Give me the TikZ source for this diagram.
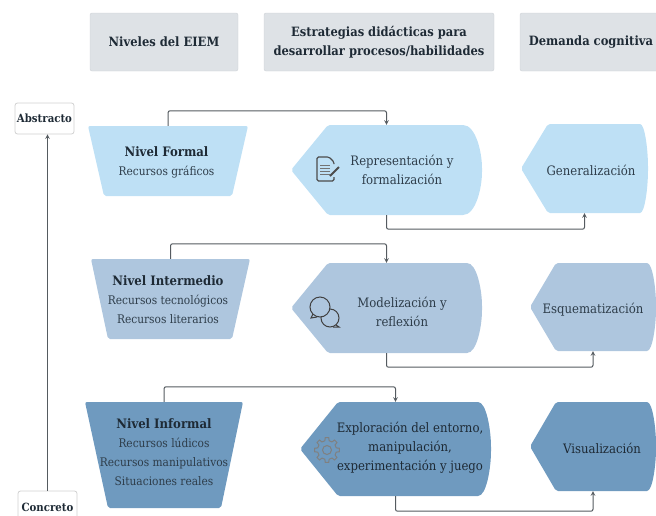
\documentclass[tikz,border=0pt]{standalone}
\usepackage{fontspec}
\setmainfont{DejaVu Serif Condensed}
\usepackage{tikz}
\usetikzlibrary{shapes,arrows}

\definecolor{cabecera}{HTML}{DEE2E6}
\definecolor{claro}{HTML}{BEE0F5}
\definecolor{medio}{HTML}{AEC6DE}
\definecolor{oscuro}{HTML}{6F9ABF}
\definecolor{tinta}{HTML}{1E2A35}
\definecolor{suave}{HTML}{2E3D4A}
\definecolor{linea}{HTML}{555B60}

\tikzset{
  cabeza/.style={rectangle, rounded corners=2pt, fill=cabecera, draw=cabecera!93!black, line width=0.4pt, inner sep=0pt, align=center, text=tinta, font=\fontsize{12.8}{19}\selectfont\bfseries},
  extremo/.style={rectangle, rounded corners=2.5pt, fill=white, draw=black!18, line width=0.8pt, inner sep=0pt, text=tinta, font=\fontsize{11.3}{13}\selectfont\bfseries},
  caja/.style={rectangle, inner sep=0pt},
  texto/.style={align=center, text=suave, font=\fontsize{13}{19}\selectfont},
  recurso/.style={align=center, text=suave, font=\fontsize{11.8}{19}\selectfont},
  conector/.style={draw=linea, line width=1pt, rounded corners=2pt, >=stealth},
}

\newcommand{\titulo}[1]{{\fontsize{13}{19}\selectfont\bfseries\color{tinta}#1}}

% top left x, top right x, bottom left x, bottom right x, top y, bottom y
\newcommand{\trapecio}[8]{
  \fill[#2, rounded corners=2pt] (#3,#7) -- (#4,#7) -- (#6,#8) -- (#5,#8) -- cycle;
  \node[caja, minimum width={(#4-#3)*1pt}, minimum height={(#8-#7)*1pt}] (#1) at ({(#3+#4)/2},{(#7+#8)/2}) {};
}

% tip x, corner x, arc x, end x, top y, bottom y
\newcommand{\pentagono}[8]{
  \pgfmathsetmacro{\ymed}{(#7+#8)/2}
  \fill[#2, rounded corners=2pt] (#3,\ymed) -- (#4,#7) -- (#5,#7)
    .. controls ({#5+0.7*(#6-#5)},#7) and (#6,{#7+0.3*(#8-#7)}) .. (#6,\ymed)
    .. controls (#6,{#8-0.3*(#8-#7)}) and ({#5+0.7*(#6-#5)},#8) .. (#5,#8)
    -- (#4,#8) -- cycle;
  \node[caja, minimum width={(#6-#3)*1pt}, minimum height={(#8-#7)*1pt}] (#1) at ({(#3+#6)/2},\ymed) {};
}

\begin{document}
\begin{tikzpicture}[x=1pt,y=-1pt]

    \useasboundingbox (0,0) rectangle (656,515);

    % headers
    \node[cabeza, minimum width=148pt, minimum height=58pt] (hNiveles) at (164,42) {Niveles del EIEM};
    \node[cabeza, minimum width=230pt, minimum height=58pt] (hEstrategias) at (379,42) {Estrategias didácticas para\\desarrollar procesos/habilidades};
    \node[cabeza, minimum width=142pt, minimum height=58pt] (hDemanda) at (591,42) {Demanda cognitiva};

    % axis
    \node[extremo, minimum width=59pt, minimum height=31pt] (abstracto) at (44.5,118.5) {Abstracto};
    \node[extremo, minimum width=59pt, minimum height=32pt] (concreto) at (47.5,507) {Concreto};

    % row 1
    \trapecio{formal}{claro}{88}{248}{104}{232}{126}{196}
    \pentagono{representacion}{claro}{291}{328}{461}{482}{125}{215}
    \pentagono{generalizacion}{claro}{521}{548}{638}{648}{124}{213}

    % row 2
    \trapecio{intermedio}{medio}{91}{250}{108}{232}{259}{339}
    \pentagono{modelizacion}{medio}{291}{328}{465}{482}{263}{353}
    \pentagono{esquematizacion}{medio}{530}{556}{645}{656}{263}{351}

    % row 3
    \trapecio{informal}{oscuro}{85}{243}{108}{221}{402}{508}
    \pentagono{exploracion}{oscuro}{300}{338}{476}{491}{402}{496}
    \pentagono{visualizacion}{oscuro}{530}{556}{645}{656}{402}{491}

    % labels
    \node[recurso] (tFormal) at (166.5,162) {\titulo{Nivel Formal}\\Recursos gráficos};
    \node[recurso] (tIntermedio) at (168,300) {\titulo{Nivel Intermedio}\\Recursos tecnológicos\\Recursos literarios};
    \node[recurso] (tInformal) at (164,452) {\titulo{Nivel Informal}\\Recursos lúdicos\\Recursos manipulativos\\Situaciones reales};
    \node[texto] (tRepresentacion) at (402,170) {Representación y\\formalización};
    \node[texto] (tGeneralizacion) at (591,170) {Generalización};
    \node[texto] (tModelizacion) at (402,312) {Modelización y\\reflexión};
    \node[texto] (tEsquematizacion) at (593,310) {Esquematización};
    \node[texto, text=tinta] (tExploracion) at (410,448) {Exploración del entorno,\\manipulación,\\experimentación y juego};
    \node[texto, text=tinta] (tVisualizacion) at (602,448) {Visualización};

    % icons
    \begin{scope}[shift={(326,169)}, draw=black!70, line width=1.1pt]
      \draw[rounded corners=1.5pt] (8,-5) -- (8,-7) -- (3,-12) -- (-9,-12) -- (-9,12) -- (8,12) -- (8,8);
      \foreach \yy in {-4,-1,2,5} {
        \draw[line width=0.9pt, draw=black!55] (-6,\yy) -- (4,\yy);
      }
      \draw[line width=1.8pt] (4,7) -- (13,-2);
    \end{scope}
    \begin{scope}[draw=black!75, line width=1pt]
      \draw (330,318) circle (9);
      \fill[medio] (320,307) circle (10);
      \draw (320,307) circle (10);
      \draw (313,314) -- (311,318) -- (317,317);
      \draw (336,325) -- (339,327) -- (333,327);
    \end{scope}
    \begin{scope}[shift={(327,450)}, draw=black!50, line width=1pt]
      \draw (0,0) circle (4.5);
      \foreach \ang in {0,45,...,315} {
        \draw ({\ang-13}:9.5) -- ({\ang-8}:12.5) -- ({\ang+8}:12.5) -- ({\ang+13}:9.5) -- ({\ang+32}:9.5);
      }
    \end{scope}

    % connectors
    \draw [conector, ->] (concreto.north) -- (abstracto.south -| concreto.north);
    \draw [conector, ->] (formal.north) -- ++(0,-15) -| (representacion.north);
    \draw [conector, ->] (representacion.south) -- ++(0,14) -| (generalizacion.south);
    \draw [conector, ->] (intermedio.north) -- ++(0,-15) -| (modelizacion.north);
    \draw [conector, ->] (modelizacion.south) -- ++(0,14) -| (esquematizacion.south);
    \draw [conector, ->] (informal.north) -- ++(0,-15) -| (exploracion.north);
    \draw [conector, ->] (exploracion.south) -- ++(0,15) -| (visualizacion.south);

\end{tikzpicture}
\end{document}
